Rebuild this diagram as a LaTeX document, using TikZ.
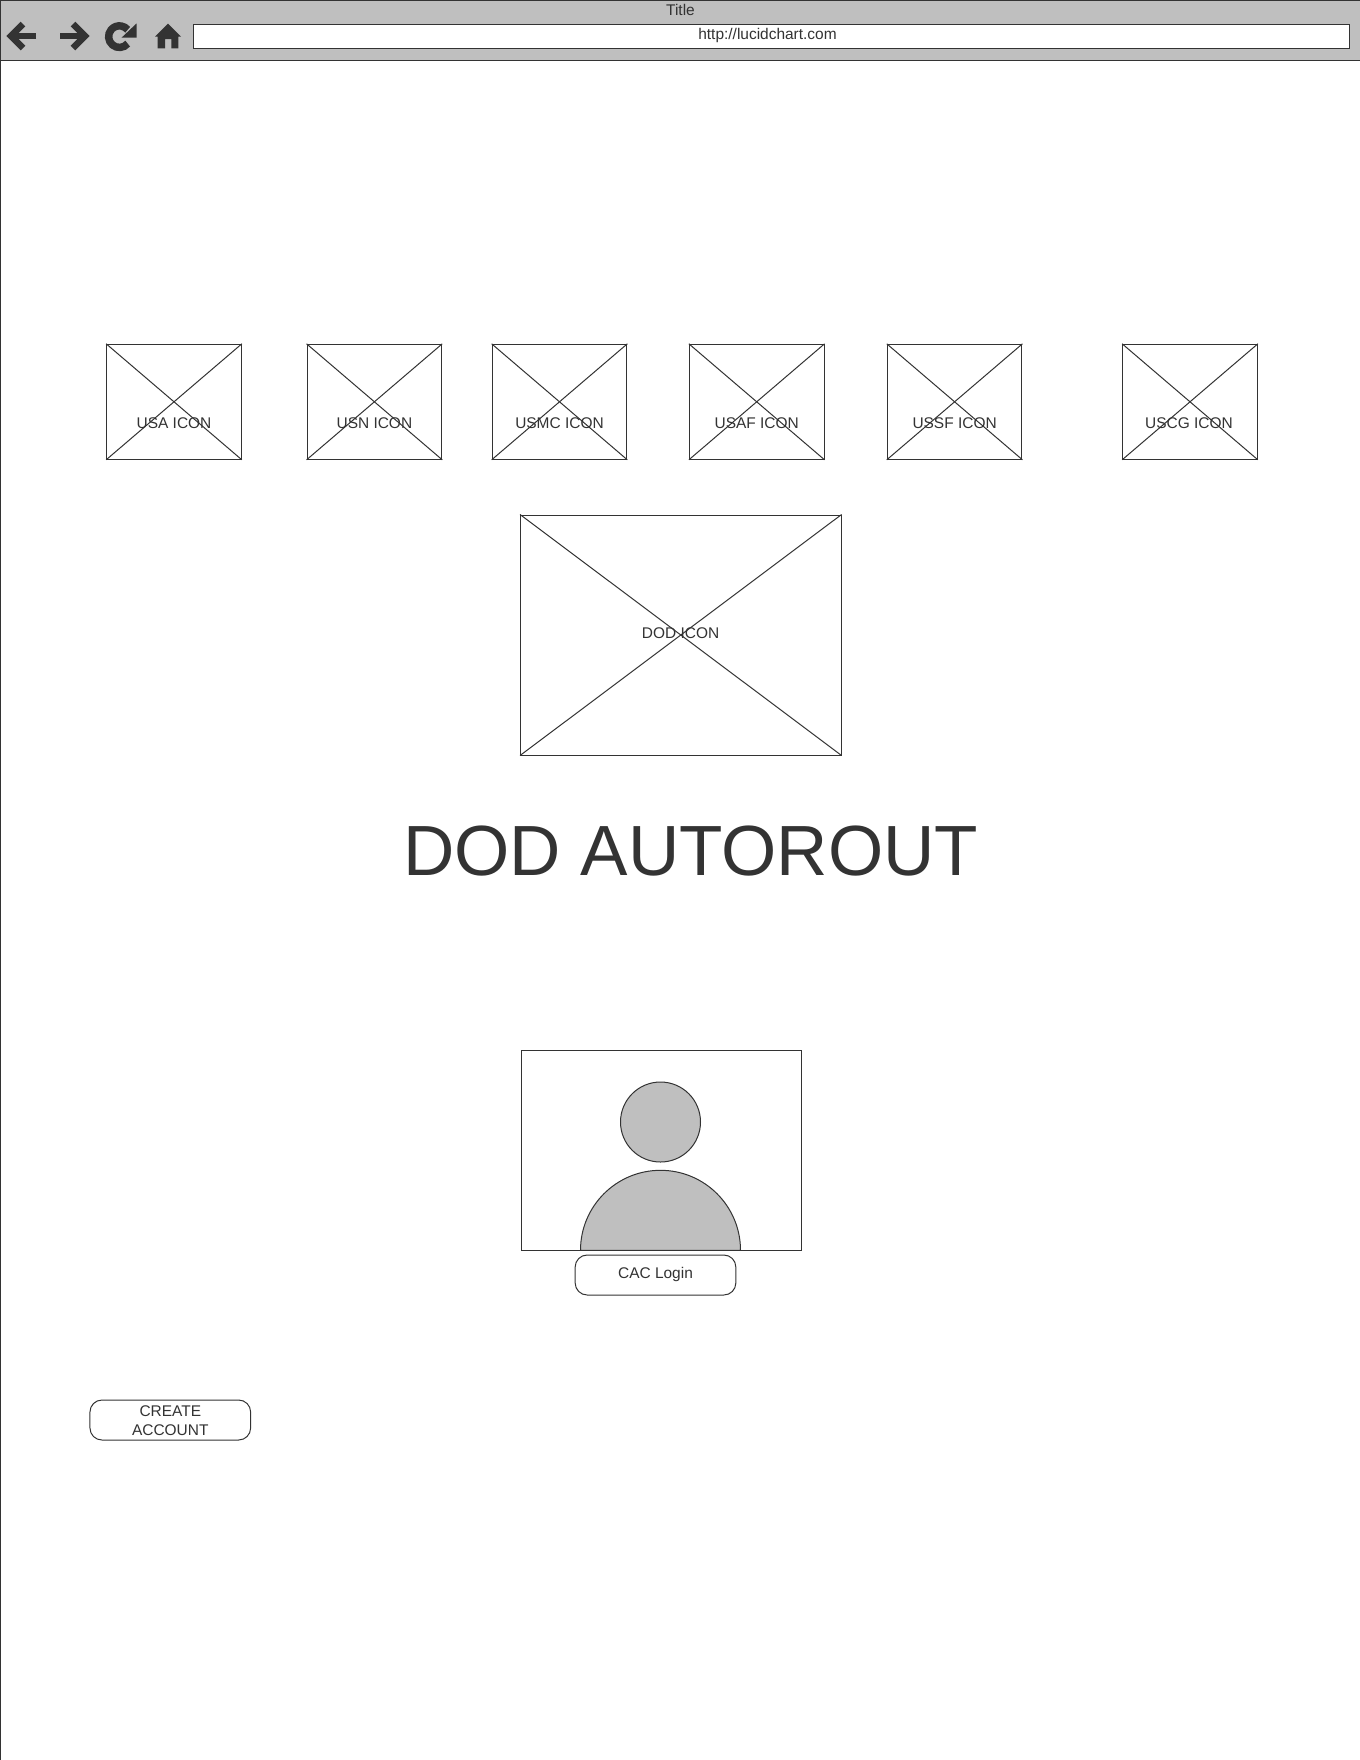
\documentclass[tikz,border=0pt]{standalone}
\usepackage{fontspec}
\setmainfont{Liberation Sans}
\definecolor{ink}{HTML}{333333}
\definecolor{bargray}{HTML}{BFBFBF}
\tikzset{
  line/.style={draw=ink,line width=0.75pt},
  label/.style={text=ink,font=\fontsize{11.6}{13.8}\selectfont,inner sep=0pt},
  iconbox/.style={line,inner sep=0pt,minimum width=101pt,minimum height=86.25pt},
  bigbox/.style={line,inner sep=0pt,minimum width=240.4pt,minimum height=180pt},
  btn/.style={line,rounded corners=9pt,inner sep=0pt,minimum width=120.5pt,minimum height=30pt,align=center,text=ink,font=\fontsize{11.6}{14.2}\selectfont},
  glyph/.style={draw=ink,line width=4.9pt},
}
\newcommand{\crossbox}[1]{%
  \draw[line] (#1.north west) -- (#1.south east);
  \draw[line] (#1.north east) -- (#1.south west);}
\begin{document}
\begin{tikzpicture}[x=0.75pt,y=-0.75pt]
\useasboundingbox (0,0) rectangle (1360,1760);
\fill[white] (0,0) rectangle (1360,1760);
% browser chrome
\fill[bargray] (0,0) rectangle (1360,60.5);
\draw[line,line width=1.1pt] (1360,0.5) -- (0.7,0.5) -- (0.7,1760);
\draw[line] (0,60.5) -- (1360,60.5);
\node[line,fill=white,inner sep=0pt,minimum width=867pt,minimum height=18pt] (url) at (771,36.3) {};
\node[label] (title) at (680.5,9.5) {Title};
\node[label] (urltext) at (767.5,35) {http://lucidchart.com};
% icons
\draw[glyph] (36,36) -- (11,36);
\draw[glyph,miter limit=10] (23,24) -- (11,36) -- (23,48);
\draw[glyph] (60,36) -- (85,36);
\draw[glyph,miter limit=10] (73,24) -- (85,36) -- (73,48);
\draw[glyph,line width=5.6pt] (127.7,43.6) arc[start angle=-40,end angle=-320,radius=8.1pt];
\fill[ink] (136.5,23.5) -- (136.5,37.5) -- (121.7,37.5) -- cycle;
\fill[ink] (168,23.7) -- (181,36.7) -- (178.3,36.7) -- (178.3,48.3) -- (171.3,48.3) -- (171.3,39) -- (165,39) -- (165,48.3) -- (157.7,48.3) -- (157.7,36.7) -- (155,36.7) -- cycle;
% service icons
\node[iconbox] (usa) at (174,401.8) {};
\node[iconbox] (usn) at (374.4,401.8) {};
\node[iconbox] (usmc) at (559.5,401.8) {};
\node[iconbox] (usaf) at (756.7,401.8) {};
\node[iconbox] (ussf) at (954.6,401.8) {};
\node[iconbox] (uscg) at (1190,401.8) {};
\crossbox{usa}\crossbox{usn}\crossbox{usmc}\crossbox{usaf}\crossbox{ussf}\crossbox{uscg}
\node[label] (tusa) at (174,423) {USA ICON};
\node[label] (tusn) at (374.4,423) {USN ICON};
\node[label] (tusmc) at (559.5,423) {USMC ICON};
\node[label] (tusaf) at (756.7,423) {USAF ICON};
\node[label] (tussf) at (954.6,423) {USSF ICON};
\node[label] (tuscg) at (1189,423) {USCG ICON};
% DOD icon
\node[bigbox] (dod) at (680.8,635) {};
\crossbox{dod}
\node[label] (tdod) at (680.6,633) {DOD ICON};
% heading
\node[text=ink,inner sep=0pt,anchor=base,font=\fontsize{53.3}{60}\selectfont] (heading) at (690.7,875.5) {DOD AUTOROUT};
% profile picture
\node[line,inner sep=0pt,minimum width=210pt,minimum height=150pt] (photo) at (661,1150.3) {};
\node[line,fill=bargray,circle,inner sep=0pt,minimum size=60pt] (head) at (660.5,1122) {};
\draw[line,fill=bargray] (580.5,1250.3) arc[start angle=180,end angle=0,radius=60pt] -- cycle;
% buttons
\node[btn] (cac) at (655.5,1275) {\raisebox{2.5pt}{CAC Login}};
\node[btn] (create) at (170.3,1420) {};
\node[label,align=center,font=\fontsize{11.6}{14.2}\selectfont] (tcreate) at (170.3,1420.8) {CREATE\\ACCOUNT};
\end{tikzpicture}
\end{document}
